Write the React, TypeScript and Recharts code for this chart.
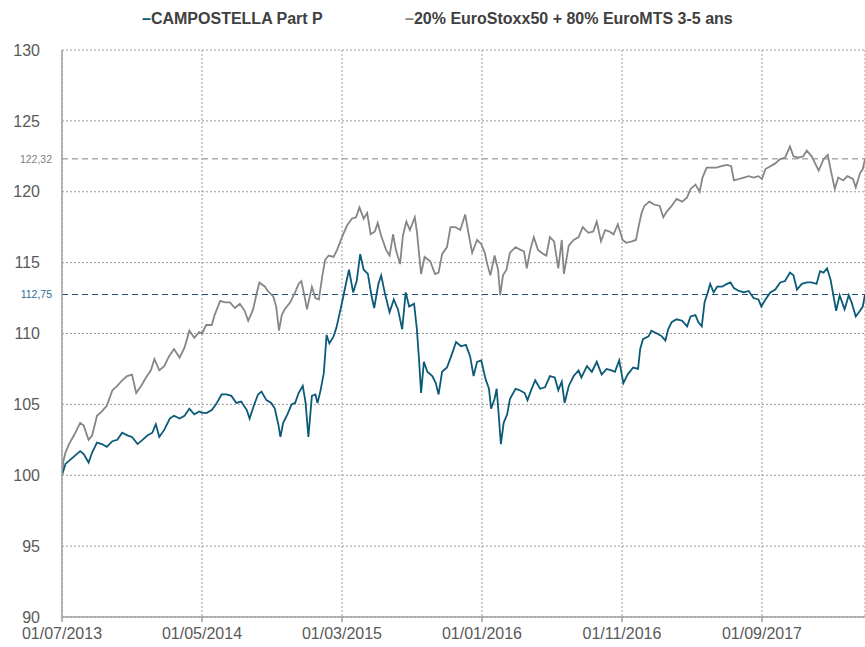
import React from "react";
import {
  CartesianGrid,
  Legend,
  Line,
  LineChart,
  ReferenceLine,
  XAxis,
  YAxis,
} from "recharts";

// x = months since 01/07/2013, y = base 100
const fund: [number, number][] = [
  [0, 100.0], [0.25, 100.8], [0.6, 101.1], [0.95, 101.4], [1.3, 101.7], [1.55, 101.5],
  [1.9, 100.9], [2.15, 101.6], [2.5, 102.3], [2.85, 102.2], [3.2, 102.0], [3.6, 102.4],
  [3.95, 102.5], [4.3, 103.0], [4.7, 102.8], [5.0, 102.7], [5.4, 102.2], [5.75, 102.5],
  [6.1, 102.8], [6.45, 103.0], [6.7, 103.6], [6.95, 102.7], [7.3, 103.2], [7.7, 104.0],
  [8.0, 104.2], [8.4, 104.0], [8.75, 104.2], [9.1, 104.7], [9.45, 104.3], [9.8, 104.5],
  [10.0, 104.4], [10.35, 104.4], [10.7, 104.6], [11.0, 105.0], [11.4, 105.7], [11.75, 105.7],
  [12.1, 105.6], [12.45, 105.1], [12.8, 105.2], [13.2, 104.6], [13.4, 104.0], [13.7, 104.9],
  [14.0, 105.7], [14.25, 105.9], [14.6, 105.3], [14.95, 105.1], [15.2, 104.7], [15.45, 103.6],
  [15.6, 102.7], [15.8, 103.7], [16.1, 104.3], [16.4, 105.0], [16.65, 105.1], [16.9, 105.8],
  [17.2, 106.3], [17.4, 105.1], [17.6, 102.7], [17.85, 105.6], [18.1, 105.7], [18.25, 105.1],
  [18.45, 105.9], [18.7, 107.2], [18.9, 109.9], [19.1, 109.3], [19.4, 109.8], [19.6, 110.4],
  [19.85, 111.5], [20.05, 112.4], [20.3, 113.6], [20.5, 114.5], [20.8, 112.9], [21.05, 113.7],
  [21.3, 115.6], [21.55, 114.5], [21.85, 114.2], [22.1, 112.7], [22.3, 111.8], [22.6, 113.5],
  [22.8, 114.1], [23.05, 112.9], [23.4, 111.5], [23.7, 112.4], [24.0, 111.7], [24.3, 110.3],
  [24.55, 112.9], [24.8, 111.9], [25.15, 112.1], [25.35, 110.3], [25.5, 108.2], [25.65, 105.8],
  [25.85, 108.0], [26.1, 107.3], [26.45, 107.0], [26.7, 106.5], [26.9, 105.7], [27.15, 107.3],
  [27.5, 107.6], [27.8, 108.4], [28.15, 109.4], [28.5, 109.1], [28.85, 109.2], [29.15, 108.4],
  [29.4, 107.0], [29.65, 108.0], [29.95, 108.1], [30.25, 106.8], [30.5, 106.1], [30.65, 104.7],
  [30.9, 105.4], [31.05, 106.1], [31.2, 104.2], [31.35, 102.2], [31.55, 103.7], [31.8, 104.3],
  [32.0, 105.4], [32.4, 106.1], [32.7, 106.0], [33.05, 105.8], [33.25, 105.3], [33.55, 106.1],
  [33.8, 106.7], [34.15, 106.1], [34.5, 106.2], [34.85, 107.0], [35.2, 106.9], [35.45, 106.0],
  [35.7, 106.6], [35.9, 105.1], [36.2, 106.3], [36.55, 107.0], [36.9, 107.4], [37.1, 106.9],
  [37.5, 107.7], [37.85, 107.3], [38.2, 108.0], [38.55, 107.1], [38.9, 107.5], [39.25, 107.4],
  [39.5, 107.3], [39.8, 108.1], [40.1, 106.5], [40.4, 107.1], [40.8, 107.6], [41.15, 107.5],
  [41.3, 108.9], [41.5, 109.6], [41.9, 109.8], [42.1, 110.2], [42.5, 110.0], [42.85, 109.8],
  [43.1, 109.5], [43.3, 110.3], [43.55, 110.8], [43.9, 111.0], [44.3, 110.9], [44.65, 110.5],
  [44.9, 111.2], [45.25, 111.3], [45.45, 110.8], [45.7, 110.5], [45.9, 112.2], [46.1, 112.8],
  [46.3, 113.5], [46.55, 112.9], [46.8, 113.3], [47.15, 113.3], [47.5, 113.5], [47.75, 113.6],
  [48.0, 113.2], [48.35, 113.0], [48.7, 112.9], [49.05, 113.0], [49.4, 112.5], [49.75, 112.4],
  [49.95, 111.9], [50.25, 112.4], [50.6, 112.9], [50.95, 113.1], [51.3, 113.6], [51.65, 113.7],
  [52.0, 114.3], [52.25, 114.1], [52.5, 113.1], [52.85, 113.5], [53.2, 113.6], [53.55, 113.6],
  [53.9, 113.5], [54.15, 114.4], [54.4, 114.3], [54.65, 114.6], [54.9, 113.8], [55.1, 112.7],
  [55.3, 111.6], [55.55, 112.7], [55.9, 111.7], [56.2, 112.7], [56.4, 112.2], [56.7, 111.2],
  [57.0, 111.6], [57.2, 111.9], [57.36, 112.75],
];

const bench: [number, number][] = [
  [0, 100.0], [0.1, 101.0], [0.25, 101.6], [0.5, 102.2], [0.85, 102.8], [1.3, 103.7],
  [1.55, 103.5], [1.9, 102.5], [2.15, 102.8], [2.5, 104.2], [2.85, 104.5], [3.2, 104.9],
  [3.6, 106.0], [3.95, 106.3], [4.3, 106.7], [4.65, 107.0], [5.0, 107.1], [5.3, 105.8],
  [5.65, 106.3], [6.0, 106.9], [6.35, 107.4], [6.6, 108.2], [6.95, 107.4], [7.3, 107.7],
  [7.65, 108.4], [8.0, 108.9], [8.4, 108.3], [8.75, 109.0], [9.1, 110.2], [9.45, 109.7],
  [9.8, 110.1], [10.0, 110.0], [10.3, 110.6], [10.7, 110.6], [10.9, 111.3], [11.3, 112.3],
  [11.65, 112.2], [12.0, 112.2], [12.35, 111.8], [12.7, 112.1], [13.05, 111.6], [13.3, 110.9],
  [13.65, 111.7], [13.9, 112.8], [14.1, 113.6], [14.5, 113.3], [14.7, 113.0], [15.1, 112.6],
  [15.3, 111.9], [15.5, 110.2], [15.7, 111.3], [15.9, 111.7], [16.3, 112.2], [16.65, 112.9],
  [16.9, 113.5], [17.1, 113.7], [17.35, 112.5], [17.5, 111.7], [17.85, 113.3], [18.1, 112.5],
  [18.35, 112.4], [18.6, 114.1], [18.8, 115.2], [19.05, 115.5], [19.4, 115.4], [19.65, 115.9],
  [20.0, 116.8], [20.35, 117.6], [20.7, 118.1], [21.0, 118.2], [21.25, 118.9], [21.55, 118.1],
  [21.8, 118.5], [22.05, 117.0], [22.35, 117.2], [22.55, 117.8], [22.8, 116.9], [23.15, 115.9],
  [23.4, 115.5], [23.65, 117.0], [23.85, 115.9], [24.15, 114.9], [24.35, 116.9], [24.6, 117.9],
  [24.85, 117.3], [25.2, 118.2], [25.35, 117.2], [25.65, 114.2], [25.9, 115.4], [26.3, 115.1],
  [26.65, 114.2], [26.9, 114.3], [27.15, 115.6], [27.5, 116.1], [27.75, 117.5], [28.1, 117.5],
  [28.45, 117.3], [28.8, 118.4], [29.05, 117.0], [29.3, 115.7], [29.65, 116.6], [29.95, 116.3],
  [30.2, 115.7], [30.35, 115.0], [30.6, 114.1], [30.9, 115.5], [31.15, 114.5], [31.3, 112.7],
  [31.5, 114.1], [31.75, 114.5], [32.0, 115.7], [32.4, 116.1], [32.75, 115.9], [33.0, 115.8],
  [33.2, 114.6], [33.45, 115.9], [33.7, 116.8], [34.0, 115.9], [34.4, 115.6], [34.6, 115.5],
  [34.85, 116.8], [35.15, 116.5], [35.45, 114.6], [35.7, 116.6], [35.85, 114.2], [36.2, 116.2],
  [36.55, 116.6], [36.9, 116.8], [37.2, 117.5], [37.6, 117.1], [37.95, 117.2], [38.2, 117.9],
  [38.5, 116.5], [38.8, 117.3], [39.1, 117.2], [39.4, 117.0], [39.7, 117.7], [40.05, 116.6],
  [40.3, 116.4], [40.7, 116.5], [41.0, 116.6], [41.2, 117.6], [41.4, 118.5], [41.6, 119.0],
  [41.95, 119.3], [42.3, 119.1], [42.7, 119.0], [42.95, 118.2], [43.2, 118.6], [43.55, 119.0],
  [43.9, 119.5], [44.3, 119.3], [44.65, 119.6], [44.9, 120.2], [45.25, 120.5], [45.55, 120.0],
  [45.75, 121.0], [46.05, 121.7], [46.4, 121.7], [46.75, 121.7], [47.1, 121.8], [47.5, 121.9],
  [47.8, 121.8], [48.0, 120.8], [48.35, 120.9], [48.7, 121.0], [49.05, 121.1], [49.4, 121.0],
  [49.75, 121.1], [50.0, 120.9], [50.25, 121.6], [50.6, 121.8], [50.95, 122.0], [51.3, 122.3],
  [51.65, 122.4], [52.0, 123.2], [52.25, 122.5], [52.6, 122.4], [52.95, 122.5], [53.2, 122.9],
  [53.55, 122.5], [53.8, 122.0], [54.05, 121.5], [54.4, 122.3], [54.7, 122.6], [54.9, 121.6],
  [55.2, 120.2], [55.45, 121.0], [55.8, 120.8], [56.1, 121.1], [56.5, 120.9], [56.7, 120.3],
  [57.0, 121.3], [57.2, 121.6], [57.36, 122.32],
];

const xTicks = [0, 10, 20, 30, 40, 50];
const xTickLabels = ["01/07/2013", "01/05/2014", "01/03/2015", "01/01/2016", "01/11/2016", "01/09/2017"];
const yTicks = [90, 95, 100, 105, 110, 115, 120, 125, 130];
const lastFund = 112.75;
const lastBench = 122.32;

const FUND_COLOR = "#0b5a78";
const BENCH_COLOR = "#868686";
const FONT = "'Liberation Sans', Arial, sans-serif";

const fundData = fund.map(([m, v]) => ({ m, v }));
const benchData = bench.map(([m, v]) => ({ m, v }));

function ChartLegend() {
  const item = (color: string, text: string, left: number) => (
    <div
      style={{
        position: "absolute",
        left,
        top: 10,
        fontFamily: FONT,
        fontWeight: "bold",
        fontSize: 16,
        lineHeight: "18px",
        color: "#404040",
        whiteSpace: "nowrap",
      }}
    >
      <span style={{ color }}>–</span>
      {text}
    </div>
  );
  return (
    <div style={{ position: "relative", width: 865, height: 50 }}>
      {item(FUND_COLOR, "CAMPOSTELLA Part P", 142)}
      {item(BENCH_COLOR, "20% EuroStoxx50 + 80% EuroMTS 3-5 ans", 405)}
    </div>
  );
}

export default function App() {
  return (
    <div style={{ position: "absolute", left: 0, top: 0, width: 865, height: 647, background: "#fff" }}>
      <LineChart width={865} height={647} margin={{ top: 0, right: 0, bottom: 0, left: 0 }}>
        <Legend verticalAlign="top" align="left" height={50} content={() => <ChartLegend />} />
        <CartesianGrid stroke="#9a9a9a" strokeDasharray="2 2" />
        <XAxis
          type="number"
          dataKey="m"
          domain={[0, 57.36]}
          ticks={xTicks}
          tickFormatter={(v) => xTickLabels[xTicks.indexOf(v)] ?? ""}
          height={30}
          tickSize={5}
          tickMargin={6}
          stroke="#a0a0a0"
          strokeWidth={1.5}
          tick={{ fill: "#595959", fontSize: 16, fontFamily: FONT }}
          allowDataOverflow
        />
        <YAxis
          type="number"
          domain={[90, 130]}
          ticks={yTicks}
          width={62}
          tickSize={0}
          tickMargin={22}
          stroke="#a0a0a0"
          strokeWidth={1.5}
          tick={{ fill: "#595959", fontSize: 16, fontFamily: FONT }}
        />
        <ReferenceLine
          y={lastBench}
          stroke="#7f7f7f"
          strokeDasharray="6 4"
          label={{ value: "122,32", position: "left", offset: 10, fill: "#7f7f7f", fontSize: 10.5, fontFamily: FONT }}
        />
        <ReferenceLine
          y={lastFund}
          stroke="#1f4e79"
          strokeDasharray="6 4"
          label={{ value: "112,75", position: "left", offset: 10, fill: "#2e6a95", fontSize: 10.5, fontFamily: FONT }}
        />
        <Line
          data={benchData}
          dataKey="v"
          type="linear"
          stroke={BENCH_COLOR}
          strokeWidth={1.8}
          dot={false}
          isAnimationActive={false}
        />
        <Line
          data={fundData}
          dataKey="v"
          type="linear"
          stroke={FUND_COLOR}
          strokeWidth={1.8}
          dot={false}
          isAnimationActive={false}
        />
      </LineChart>
    </div>
  );
}
